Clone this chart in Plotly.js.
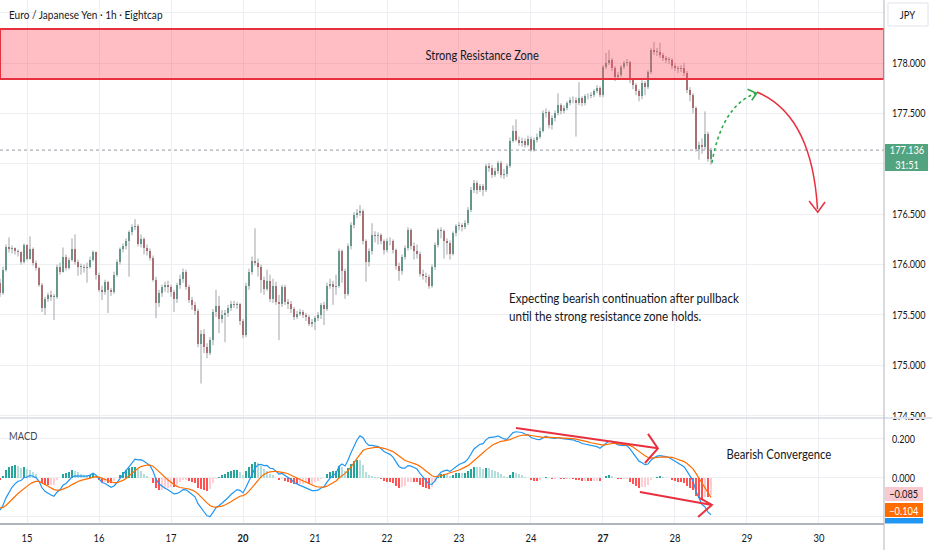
<!DOCTYPE html>
<html>
<head>
<meta charset="utf-8">
<script src="https://cdn.plot.ly/plotly-3.0.1.min.js"></script>
<style>
html,body{margin:0;padding:0;background:#fff;}
#chart{width:932px;height:550px;}
</style>
</head>
<body>
<div id="chart"></div>
<script>
// ---- EUR/JPY 1h candles (hour index 0 = 15th 00:00, trading hours only) ----
const firstOpen = 175.82;
const closes = [
175.72,175.95,176.17,176.15,176.16,176.13,176.12,176.03,176.19,176.06,
176.15,176.02,175.97,175.80,175.57,175.66,175.70,175.68,175.68,175.98,
175.93,176.08,175.97,176.05,176.15,176.03,175.98,175.98,175.97,175.98,
176.05,176.12,175.90,175.75,175.73,175.83,175.75,175.73,175.90,176.03,
176.15,176.18,176.23,176.32,176.37,176.38,176.20,176.25,176.16,176.13,
176.07,175.85,175.62,175.72,175.78,175.80,175.78,175.73,175.66,175.80,
175.86,175.93,175.78,175.65,175.60,175.54,175.21,175.31,175.18,175.12,
175.25,175.53,175.59,175.46,175.50,175.52,175.57,175.61,175.60,175.61,
175.44,175.30,175.79,175.93,176.04,176.02,175.98,175.85,175.76,175.84,
175.66,175.79,175.63,175.61,175.78,175.63,175.61,175.56,175.48,175.51,
175.53,175.50,175.48,175.41,175.43,175.47,175.50,175.60,175.56,175.79,
175.81,175.78,175.79,176.13,175.94,175.71,176.18,176.39,176.49,176.51,
176.53,176.23,176.03,176.13,176.29,176.28,176.29,176.23,176.14,176.23,
176.23,176.14,175.99,175.94,176.08,176.16,176.34,176.18,176.13,176.11,
175.91,175.89,175.88,175.79,175.98,176.19,176.34,176.33,176.23,176.21,
176.11,176.31,176.38,176.39,176.37,176.41,176.54,176.74,176.81,176.74,
176.78,176.74,176.98,176.96,176.89,176.93,177.01,176.89,176.90,176.98,
177.23,177.33,177.24,177.21,177.23,177.19,177.25,177.14,177.24,177.27,
177.33,177.50,177.51,177.38,177.45,177.50,177.58,177.52,177.55,177.60,
177.63,177.63,177.60,177.65,177.60,177.67,177.67,177.68,177.72,177.75,
177.68,177.96,178.00,178.03,177.95,177.86,177.88,177.96,178.00,178.01,
177.83,177.78,177.72,177.67,177.80,177.76,177.91,178.13,178.11,178.11,
178.08,178.05,178.03,178.03,177.97,177.95,177.94,177.95,177.90,177.73,
177.68,177.55,177.15,177.19,177.17,177.30,177.05,177.136
];
const highs = [
175.86,175.98,176.20,176.27,176.19,176.17,176.15,176.13,176.21,176.20,
176.28,176.17,176.04,175.98,175.82,175.68,175.72,175.74,175.71,176.00,
176.02,176.17,176.10,176.07,176.26,176.30,176.05,176.01,176.00,176.02,
176.08,176.14,176.13,175.92,175.79,175.85,175.84,175.77,175.93,176.05,
176.17,176.21,176.26,176.34,176.40,176.45,176.40,176.30,176.27,176.20,
176.16,176.09,175.88,175.75,175.80,175.83,175.84,175.80,175.75,175.82,
175.90,175.96,175.95,175.80,175.68,175.63,175.56,175.35,175.36,175.22,
175.28,175.56,175.75,175.69,175.55,175.55,175.60,175.64,175.64,175.63,
175.62,175.46,175.82,175.96,176.08,176.36,176.06,176.00,175.88,175.95,
175.90,175.86,175.83,175.70,175.80,175.80,175.66,175.64,175.58,175.54,
175.56,175.55,175.52,175.50,175.46,175.49,175.53,175.62,175.63,175.82,
175.86,175.84,175.90,176.16,176.15,175.96,176.21,176.42,176.52,176.55,
176.59,176.55,176.25,176.16,176.41,176.33,176.32,176.31,176.25,176.26,
176.27,176.25,176.16,176.02,176.10,176.19,176.37,176.36,176.22,176.20,
176.13,175.95,175.92,175.90,176.00,176.22,176.36,176.37,176.35,176.26,
176.24,176.33,176.40,176.42,176.41,176.44,176.57,176.77,176.84,176.83,
176.80,176.80,177.00,177.01,176.99,176.96,177.03,177.03,176.95,177.00,
177.26,177.38,177.44,177.27,177.26,177.25,177.28,177.27,177.26,177.30,
177.36,177.53,177.55,177.53,177.48,177.53,177.70,177.60,177.58,177.62,
177.66,177.67,177.66,177.81,177.67,177.69,177.70,177.71,177.74,177.78,
177.77,177.98,178.10,178.13,178.05,177.97,177.91,177.98,178.02,178.04,
178.02,177.85,177.80,177.74,177.83,177.82,177.93,178.15,178.21,178.15,
178.20,178.10,178.07,178.06,178.05,178.00,177.97,177.98,178.00,177.92,
177.76,177.70,177.57,177.22,177.25,177.52,177.32,177.16
];
const lows = [
175.68,175.70,175.93,176.12,176.11,176.10,176.08,176.00,176.01,176.04,
176.05,175.99,175.94,175.78,175.53,175.50,175.63,175.64,175.45,175.66,
175.90,175.92,175.94,175.95,176.03,176.00,175.89,175.90,175.92,175.82,
175.96,176.03,175.85,175.73,175.65,175.70,175.52,175.69,175.71,175.88,
176.00,176.12,176.15,175.88,176.29,176.34,176.18,176.17,176.10,176.09,
176.04,175.83,175.47,175.58,175.68,175.73,175.72,175.68,175.53,175.62,
175.76,175.82,175.75,175.62,175.55,175.50,175.18,174.82,175.12,175.07,
175.10,175.20,175.48,175.32,175.42,175.23,175.48,175.54,175.57,175.56,
175.40,175.27,175.28,175.75,175.90,175.99,175.88,175.72,175.70,175.74,
175.63,175.62,175.60,175.25,175.58,175.60,175.56,175.52,175.45,175.46,
175.49,175.47,175.44,175.39,175.38,175.35,175.44,175.46,175.40,175.54,
175.76,175.60,175.70,175.77,175.82,175.66,175.69,176.15,176.36,176.46,
176.48,176.20,175.83,175.98,176.10,176.22,176.20,176.20,176.10,176.12,
176.19,176.11,175.95,175.84,175.90,176.05,176.14,176.15,176.05,176.06,
175.88,175.85,175.82,175.76,175.77,175.95,176.17,176.26,176.06,176.10,
176.05,176.09,176.28,176.34,176.33,176.35,176.39,176.52,176.71,176.70,
176.72,176.68,176.72,176.92,176.86,176.87,176.90,176.86,176.85,176.87,
176.96,177.21,177.22,177.18,177.17,177.16,177.17,177.12,177.12,177.21,
177.25,177.31,177.46,177.35,177.34,177.42,177.48,177.49,177.50,177.53,
177.58,177.60,177.27,177.58,177.57,177.58,177.64,177.65,177.66,177.70,
177.66,177.66,177.94,177.98,177.92,177.82,177.84,177.86,177.94,177.97,
177.80,177.74,177.68,177.62,177.64,177.68,177.74,177.89,178.08,178.07,
178.05,178.02,178.00,177.99,177.94,177.92,177.90,177.91,177.87,177.70,
177.62,177.50,177.12,177.04,177.10,177.14,177.02,176.99
];
// each candle opens where the previous one closed
const opens = [firstOpen].concat(closes.slice(0, -1));
const hours = closes.map((_, i) => i - 9);

// axis ticks
const dayTicks  = [0, 24, 48, 72, 96, 120, 144, 168, 192, 216, 240, 264];
const dayLabels = ['15','16','17','<b>20</b>','21','22','23','24','<b>27</b>','28','29','30'];
const priceTicks = [174.5, 175.0, 175.5, 176.0, 176.5, 177.0, 177.5, 178.0, 178.5];
const priceTickText = ['174.500','175.000','175.500','176.000','176.500','','177.500','178.000',''];
const macdTicks = [-0.2, 0, 0.2];
const macdTickText = ['', '0.000', '0.200'];

// resistance zone & last price
const zoneLow = 177.84, zoneHigh = 178.337;
const lastPrice = 177.136;
const lastPriceText = '177.136', countdownText = '31:51';
const histLastText = '−0.085', signalLastText = '−0.104';

// MACD(12,26,9) of the closes; EMAs carried in from the bars before the window
const emaSeed12 = 175.81, emaSeed26 = 175.98, signalSeed = -0.15;
const macd = [], signal = [], hist = [];
(function () {
  let e12 = emaSeed12, e26 = emaSeed26, s = signalSeed;
  const a12 = 2 / 13, a26 = 2 / 27, a9 = 2 / 10;
  closes.forEach(c => {
    e12 += a12 * (c - e12); e26 += a26 * (c - e26);
    const m = e12 - e26; s += a9 * (m - s);
    macd.push(m); signal.push(s); hist.push(m - s);
  });
})();
const histColors = hist.map((v, i) => {
  const prev = i ? hist[i - 1] : v;
  if (v >= 0) return v > prev ? '#26a69a' : '#b2dfdb';
  return v > prev ? '#ffcdd2' : '#ff5252';
});

// ---- traces ----
const wx = [], wy = [];
hours.forEach((h, i) => { wx.push(h, h, null); wy.push(lows[i], highs[i], null); });
const up = [], dn = [];
hours.forEach((h, i) => (closes[i] >= opens[i] ? up : dn).push(i));
const minBody = 0.005;
const bodyTrace = (idx, color) => ({
  type: 'bar', xaxis: 'x', yaxis: 'y',
  x: idx.map(i => hours[i]),
  base: idx.map(i => Math.min(opens[i], closes[i])),
  y: idx.map(i => Math.max(Math.abs(closes[i] - opens[i]), minBody)),
  width: 0.68, marker: {color: color, line: {width: 0}}, hoverinfo: 'skip'
});

const FONT = "Lato, 'Liberation Sans', sans-serif";

const traces = [
  {type: 'scatter', mode: 'lines', x: wx, y: wy, xaxis: 'x', yaxis: 'y',
   line: {color: '#a0a4ab', width: 1}, hoverinfo: 'skip', connectgaps: false},
  bodyTrace(up, '#2c8a6a'),
  bodyTrace(dn, '#b33a3a'),
  {type: 'bar', x: hours, y: hist, xaxis: 'x', yaxis: 'y2', width: 0.68,
   marker: {color: histColors, line: {width: 0}}, hoverinfo: 'skip'},
  {type: 'scatter', mode: 'lines', x: hours, y: macd, xaxis: 'x', yaxis: 'y2',
   line: {color: '#2196f3', width: 1.2}, hoverinfo: 'skip'},
  {type: 'scatter', mode: 'lines', x: hours, y: signal, xaxis: 'x', yaxis: 'y2',
   line: {color: '#ff6d00', width: 1.2}, hoverinfo: 'skip'}
];

const RED = '#e8313f';
const PANE = 0.2023;
const badge = (x0, x1, y0, y1, fill, line) => ({type: 'rect', xref: 'paper', yref: 'paper',
  x0: x0, x1: x1, y0: y0, y1: y1, fillcolor: fill, line: line || {width: 0}, layer: 'above'});
const shapes = [
  // resistance zone
  {type: 'rect', xref: 'x', yref: 'y', x0: -9, x1: 285.67, y0: zoneLow, y1: zoneHigh,
   fillcolor: 'rgba(255,82,100,0.38)', line: {color: RED, width: 2}, layer: 'above'},
  // last price dotted line
  {type: 'line', xref: 'x', yref: 'y', x0: -9, x1: 285.67, y0: lastPrice, y1: lastPrice,
   line: {color: '#9598a1', width: 1, dash: 'dot'}},
  // pullback (green dotted)
  {type: 'path', xref: 'x', yref: 'y', path: 'M228.3,177.01 Q231.7,177.58 243.0,177.70',
   line: {color: '#2ea84a', width: 1.6, dash: 'dot'}},
  {type: 'path', xref: 'x', yref: 'y', path: 'M240.2,177.74 L243.2,177.70 L241.6,177.63',
   line: {color: '#2ea84a', width: 1.6}},
  // expected drop (red curve)
  {type: 'path', xref: 'x', yref: 'y', path: 'M243.3,177.712 Q261.7,177.484 263.5,176.55',
   line: {color: RED, width: 1.5}},
  {type: 'path', xref: 'x', yref: 'y', path: 'M260.7,176.631 L263.6,176.52 L266.0,176.621',
   line: {color: RED, width: 1.5}},
  // MACD trend lines
  {type: 'line', xref: 'x', yref: 'y2', x0: 163, y0: 0.256, x1: 210.3, y1: 0.152, line: {color: RED, width: 2}},
  {type: 'path', xref: 'x', yref: 'y2', path: 'M207,0.226 L210.3,0.152 L206,0.077', line: {color: RED, width: 2}},
  {type: 'line', xref: 'x', yref: 'y2', x0: 204.3, y0: -0.072, x1: 228.3, y1: -0.138, line: {color: RED, width: 2}},
  {type: 'path', xref: 'x', yref: 'y2', path: 'M224.3,-0.103 L228.3,-0.138 L223.7,-0.20', line: {color: RED, width: 2}},
  // pane separator, bottom axis line, right axis line
  {type: 'line', xref: 'paper', yref: 'paper', x0: 0, x1: 1.0543, y0: PANE, y1: PANE, line: {color: '#e0e3eb', width: 2}},
  {type: 'line', xref: 'paper', yref: 'paper', x0: 0, x1: 1, y0: 0, y1: 0, line: {color: '#b2b5be', width: 2}},
  {type: 'line', xref: 'paper', yref: 'paper', x0: 1, x1: 1, y0: -0.06, y1: 1, line: {color: '#b2b5be', width: 1}},
  // axis badges
  badge(1.0045, 1.0498, 0.9504, 0.9943, '#ffffff', {color: '#e0e3eb', width: 1}),
  badge(1.0011, 1.0498, 0.6737, 0.7252, '#52a37f'),
  badge(1.0011, 1.0441, 0.0439, 0.0706, '#f8c9cf'),
  badge(1.0011, 1.0441, 0.0134, 0.0401, '#ff6d00'),
  badge(1.0011, 1.0441, 0.001, 0.0115, '#2196f3')
];

const ann = (o) => Object.assign({showarrow: false, xref: 'paper', yref: 'paper', yanchor: 'middle'}, o);
const annotations = [
  ann({x: 0.008, y: 0.9714, xanchor: 'left', align: 'left',
       text: 'Euro / Japanese Yen · 1h · Eightcap', font: {family: FONT, size: 12.3, color: '#131722'}}),
  ann({x: 0.5452, y: 0.895, xanchor: 'center',
       text: 'Strong Resistance Zone', font: {family: FONT, size: 13.5, color: '#131722'}}),
  ann({x: 0.5735, y: 0.415, xanchor: 'left', align: 'left',
       text: 'Expecting bearish continuation after pullback<br>until the strong resistance zone holds.',
       font: {family: FONT, size: 14.2, color: '#131722'}}),
  ann({x: 0.008, y: 0.1698, xanchor: 'left', align: 'left',
       text: 'MACD', font: {family: FONT, size: 11.5, color: '#434651'}}),
  ann({x: 0.881, y: 0.1336, xanchor: 'center',
       text: 'Bearish Convergence', font: {family: FONT, size: 13.8, color: '#131722'}}),
  ann({x: 1.0271, y: 0.9723, xanchor: 'center',
       text: 'JPY', font: {family: FONT, size: 11.5, color: '#131722'}}),
  ann({x: 1.0255, y: 0.6995, xanchor: 'center',
       text: lastPriceText + '<br>' + countdownText, font: {family: FONT, size: 11.3, color: '#ffffff'}}),
  ann({x: 1.0226, y: 0.0573, xanchor: 'center',
       text: histLastText, font: {family: FONT, size: 11.3, color: '#131722'}}),
  ann({x: 1.0226, y: 0.0267, xanchor: 'center',
       text: signalLastText, font: {family: FONT, size: 11.3, color: '#ffffff'}})
];

const tickFont = {family: FONT, size: 11, color: '#131722'};
const layout = {
  width: 932, height: 550,
  margin: {l: 0, r: 48, t: 0, b: 26, pad: 0},
  paper_bgcolor: '#ffffff', plot_bgcolor: '#ffffff',
  showlegend: false, barmode: 'overlay', bargap: 0, hovermode: false,
  font: {family: FONT, size: 11, color: '#131722'},
  xaxis: {range: [-9, 285.67], tickvals: dayTicks, ticktext: dayLabels, anchor: 'y2',
          showgrid: true, gridcolor: '#eceef2', gridwidth: 1, zeroline: false, showline: false,
          ticks: '', ticklabelstandoff: 6, tickfont: {family: FONT, size: 11.5, color: '#131722'}},
  yaxis: {domain: [PANE, 1], range: [174.478, 178.625], side: 'right', tickvals: priceTicks,
          ticktext: priceTickText, showgrid: true, gridcolor: '#eceef2', zeroline: false, showline: false,
          ticks: '', ticklabelstandoff: 7, tickfont: tickFont},
  yaxis2: {domain: [0, PANE], range: [-0.2359, 0.3077], side: 'right', tickvals: macdTicks,
           ticktext: macdTickText, showgrid: true, gridcolor: '#eceef2', zeroline: false, showline: false,
           ticks: '', ticklabelstandoff: 7, tickfont: tickFont},
  shapes: shapes,
  annotations: annotations
};

// TradingView's UI text is narrower than the installed fonts: condense every label horizontally
function condenseText(gd, k) {
  gd.querySelectorAll('svg text').forEach(t => {
    if (!t.textContent.trim() || t.dataset.condensed) return;
    const bb = t.getBBox();
    const anchor = t.getAttribute('text-anchor') || window.getComputedStyle(t).textAnchor || 'start';
    let ax = bb.x;
    if (anchor === 'middle') ax = bb.x + bb.width / 2;
    else if (anchor === 'end') ax = bb.x + bb.width;
    const tr = t.getAttribute('transform') || '';
    t.setAttribute('transform', tr + ' translate(' + ax + ',0) scale(' + k + ',1) translate(' + (-ax) + ',0)');
    t.dataset.condensed = '1';
  });
}

const gd = document.getElementById('chart');
Plotly.newPlot(gd, traces, layout, {staticPlot: true, displayModeBar: false})
  .then(() => condenseText(gd, 0.82));
</script>
</body>
</html>
